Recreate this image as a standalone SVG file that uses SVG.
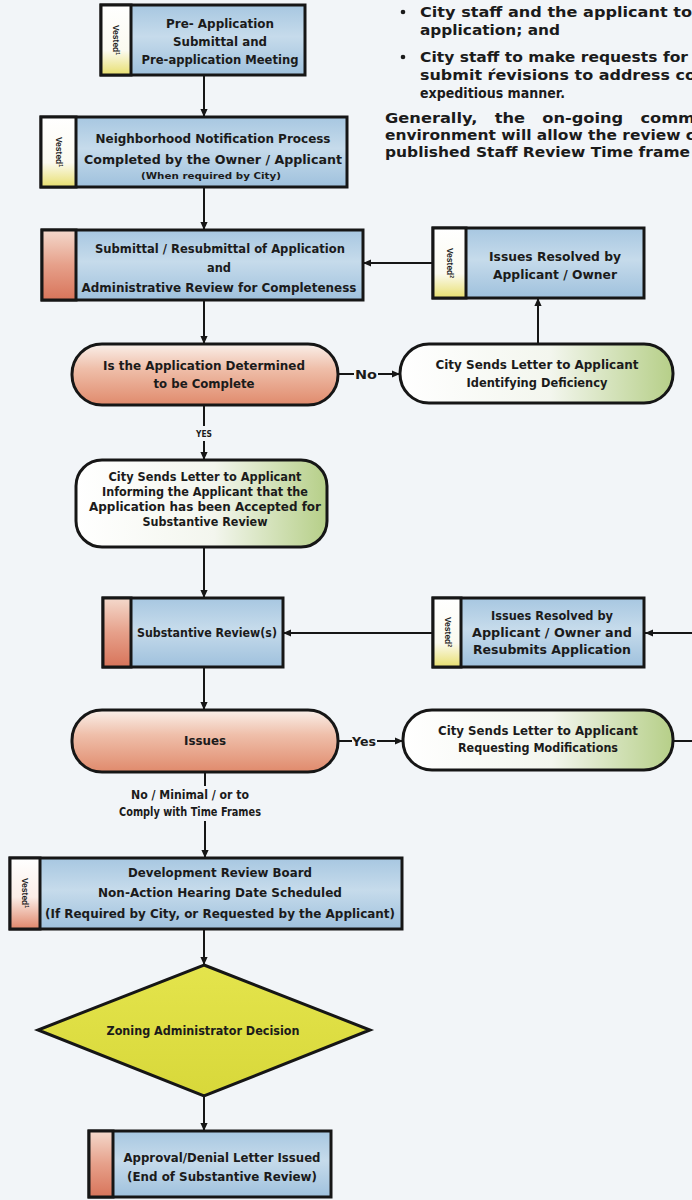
<svg xmlns="http://www.w3.org/2000/svg" width="692" height="1200" viewBox="0 0 692 1200">
<defs>
<style>
.t{font-family:"DejaVu Sans","Liberation Sans",sans-serif;font-weight:bold;font-size:12.5px;fill:#1b1b1b;text-anchor:middle}
.s{font-size:8.5px}
.p{font-family:"DejaVu Sans","Liberation Sans",sans-serif;font-weight:bold;font-size:14px;fill:#1b1b1b}
.v{font-family:"Liberation Sans",sans-serif;font-weight:bold;font-size:8.5px;fill:#222;text-anchor:middle}
.bx{stroke:#161616;stroke-width:3;fill:url(#blue)}
.st{stroke:#161616;stroke-width:3}
.ln{stroke:#161616;stroke-width:2;fill:none}
.ar{marker-end:url(#ah)}
</style>
<linearGradient id="blue" x1="0" y1="0" x2="0" y2="1">
<stop offset="0" stop-color="#a7c7e1"/><stop offset="0.45" stop-color="#c6dbeb"/><stop offset="1" stop-color="#9fc1dd"/>
</linearGradient>
<linearGradient id="red" x1="0" y1="0" x2="0" y2="1">
<stop offset="0" stop-color="#f4d9cc"/><stop offset="0.5" stop-color="#e6a08a"/><stop offset="1" stop-color="#d8745a"/>
</linearGradient>
<linearGradient id="vy" x1="0" y1="0" x2="0" y2="1">
<stop offset="0" stop-color="#ffffff"/><stop offset="0.65" stop-color="#fbfaf0"/><stop offset="1" stop-color="#e8df6e"/>
</linearGradient>
<linearGradient id="vr" x1="0" y1="0" x2="0" y2="1">
<stop offset="0" stop-color="#ffffff"/><stop offset="0.55" stop-color="#fbeee8"/><stop offset="1" stop-color="#e0866a"/>
</linearGradient>
<linearGradient id="ro" x1="0" y1="0" x2="0" y2="1">
<stop offset="0" stop-color="#faf0ea"/><stop offset="0.4" stop-color="#efbfaa"/><stop offset="1" stop-color="#e08a6c"/>
</linearGradient>
<linearGradient id="go" x1="0" y1="0" x2="1" y2="0">
<stop offset="0" stop-color="#ffffff"/><stop offset="0.55" stop-color="#f3f6ee"/><stop offset="1" stop-color="#b6cf88"/>
</linearGradient>
<linearGradient id="yl" x1="0" y1="0" x2="0" y2="1">
<stop offset="0" stop-color="#e4e44c"/><stop offset="1" stop-color="#d8d83a"/>
</linearGradient>
<marker id="ah" viewBox="0 0 10 10" refX="10" refY="5" markerWidth="8" markerHeight="8" markerUnits="userSpaceOnUse" orient="auto">
<path d="M0,0.5 L10,5 L0,9.5 z" fill="#161616"/>
</marker>
</defs>
<rect x="0" y="0" width="692" height="1200" fill="#f2f5f8"/>

<g id="notes">
<circle cx="403" cy="12" r="2.3" fill="#1b1b1b"/>
<text class="p" x="420" y="17" textLength="272" lengthAdjust="spacingAndGlyphs">City staff and the applicant to</text>
<text class="p" x="420" y="35" textLength="140" lengthAdjust="spacingAndGlyphs">application; and</text>
<circle cx="403" cy="57" r="2.3" fill="#1b1b1b"/>
<text class="p" x="420" y="62" textLength="268" lengthAdjust="spacingAndGlyphs">City staff to make requests for</text>
<text class="p" x="420" y="80" textLength="276" lengthAdjust="spacingAndGlyphs">submit ŕevisions to address co</text>
<text class="p" x="420" y="98" textLength="145" lengthAdjust="spacingAndGlyphs">expeditious manner.</text>
<text class="p" x="385" y="123" textLength="310" lengthAdjust="spacingAndGlyphs" word-spacing="10">Generally, the on-going comm</text>
<text class="p" x="385" y="140" textLength="310" lengthAdjust="spacingAndGlyphs">environment will allow the review c</text>
<text class="p" x="385" y="157" textLength="305" lengthAdjust="spacingAndGlyphs">published Staff Review Time frame</text>
</g>

<g id="connectors">
<path class="ln ar" d="M204,75 V117"/>
<path class="ln ar" d="M204,187 V230"/>
<path class="ln ar" d="M204,300 V344"/>
<path class="ln ar" d="M433,263 H363"/>
<path class="ln ar" d="M538,344 V298"/>
<path class="ln" d="M338,374 H354"/>
<text class="t" x="366" y="379" textLength="22" lengthAdjust="spacingAndGlyphs">No</text>
<path class="ln ar" d="M378,374 H400"/>
<path class="ln" d="M204,405 V426"/>
<text class="t s" x="204" y="437" textLength="16" lengthAdjust="spacingAndGlyphs">YES</text>
<path class="ln ar" d="M204,441 V460"/>
<path class="ln ar" d="M204,547 V598"/>
<path class="ln ar" d="M433,633 H283"/>
<path class="ln ar" d="M700,633 H645"/>
<path class="ln ar" d="M204,667 V710"/>
<path class="ln" d="M338,741 H352"/>
<text class="t" x="364" y="746" textLength="24" lengthAdjust="spacingAndGlyphs">Yes</text>
<path class="ln ar" d="M377,741 H403"/>
<path class="ln" d="M673,741 H700"/>
<path class="ln" d="M205,772 V786"/>
<text class="t" x="190" y="799" textLength="118" lengthAdjust="spacingAndGlyphs">No / Minimal / or to</text>
<text class="t" x="190" y="816" textLength="142" lengthAdjust="spacingAndGlyphs">Comply with Time Frames</text>
<path class="ln ar" d="M205,821 V858"/>
<path class="ln ar" d="M204,930 V965"/>
<path class="ln ar" d="M204,1096 V1131"/>
</g>

<g id="pre-application">
<rect class="bx" x="101" y="5" width="204" height="70"/>
<rect class="st" x="101" y="5" width="30" height="70" fill="url(#vy)"/>
<text class="v" transform="translate(113,40) rotate(90)">Vested<tspan font-size="5" dy="-3">1</tspan></text>
<text class="t" x="220" y="28" textLength="108" lengthAdjust="spacingAndGlyphs">Pre- Application</text>
<text class="t" x="220" y="46" textLength="94" lengthAdjust="spacingAndGlyphs">Submittal and</text>
<text class="t" x="220" y="64" textLength="157" lengthAdjust="spacingAndGlyphs">Pre-application Meeting</text>
</g>

<g id="neighborhood">
<rect class="bx" x="41" y="117" width="306" height="70"/>
<rect class="st" x="41" y="117" width="35" height="70" fill="url(#vy)"/>
<text class="v" transform="translate(56,152) rotate(90)">Vested<tspan font-size="5" dy="-3">1</tspan></text>
<text class="t" x="213" y="143" textLength="235" lengthAdjust="spacingAndGlyphs">Neighborhood Notification Process</text>
<text class="t" x="213" y="164" textLength="258" lengthAdjust="spacingAndGlyphs">Completed by the Owner / Applicant</text>
<text class="t s" x="211" y="179" textLength="140" lengthAdjust="spacingAndGlyphs">(When required by City)</text>
</g>

<g id="submittal">
<rect class="bx" x="42" y="230" width="321" height="70"/>
<rect class="st" x="42" y="230" width="34" height="70" fill="url(#red)"/>
<text class="t" x="220" y="253" textLength="250" lengthAdjust="spacingAndGlyphs">Submittal / Resubmittal of Application</text>
<text class="t" x="219" y="272" textLength="24" lengthAdjust="spacingAndGlyphs">and</text>
<text class="t" x="219" y="292" textLength="275" lengthAdjust="spacingAndGlyphs">Administrative Review for Completeness</text>
</g>

<g id="issues-resolved-1">
<rect class="bx" x="433" y="228" width="211" height="70"/>
<rect class="st" x="433" y="228" width="33" height="70" fill="url(#vy)"/>
<text class="v" transform="translate(447,263) rotate(90)">Vested<tspan font-size="5" dy="-3">2</tspan></text>
<text class="t" x="555" y="261" textLength="132" lengthAdjust="spacingAndGlyphs">Issues Resolved by</text>
<text class="t" x="555" y="279" textLength="124" lengthAdjust="spacingAndGlyphs">Applicant / Owner</text>
</g>

<g id="complete-decision">
<rect class="st" x="72" y="344" width="266" height="61" rx="30" fill="url(#ro)"/>
<text class="t" x="204" y="370" textLength="202" lengthAdjust="spacingAndGlyphs">Is the Application Determined</text>
<text class="t" x="204" y="388" textLength="101" lengthAdjust="spacingAndGlyphs">to be Complete</text>
</g>

<g id="deficiency-letter">
<rect class="st" x="400" y="344" width="273" height="59" rx="29" fill="url(#go)"/>
<text class="t" x="537" y="369" textLength="203" lengthAdjust="spacingAndGlyphs">City Sends Letter to Applicant</text>
<text class="t" x="537" y="387" textLength="141" lengthAdjust="spacingAndGlyphs">Identifying Deficiency</text>
</g>

<g id="accepted-letter">
<rect class="st" x="76" y="460" width="251" height="87" rx="26" fill="url(#go)"/>
<text class="t" x="205" y="481" textLength="193" lengthAdjust="spacingAndGlyphs">City Sends Letter to Applicant</text>
<text class="t" x="205" y="496" textLength="206" lengthAdjust="spacingAndGlyphs">Informing the Applicant that the</text>
<text class="t" x="205" y="511" textLength="232" lengthAdjust="spacingAndGlyphs">Application has been Accepted for</text>
<text class="t" x="205" y="526" textLength="125" lengthAdjust="spacingAndGlyphs">Substantive Review</text>
</g>

<g id="substantive-review">
<rect class="bx" x="103" y="598" width="180" height="69"/>
<rect class="st" x="103" y="598" width="28" height="69" fill="url(#red)"/>
<text class="t" x="207" y="637" textLength="140" lengthAdjust="spacingAndGlyphs">Substantive Review(s)</text>
</g>

<g id="issues-resolved-2">
<rect class="bx" x="433" y="598" width="211" height="69"/>
<rect class="st" x="433" y="598" width="28" height="69" fill="url(#vy)"/>
<text class="v" transform="translate(445,632) rotate(90)">Vested<tspan font-size="5" dy="-3">2</tspan></text>
<text class="t" x="552" y="620" textLength="122" lengthAdjust="spacingAndGlyphs">Issues Resolved by</text>
<text class="t" x="552" y="637" textLength="160" lengthAdjust="spacingAndGlyphs">Applicant / Owner and</text>
<text class="t" x="552" y="654" textLength="158" lengthAdjust="spacingAndGlyphs">Resubmits Application</text>
</g>

<g id="issues-decision">
<rect class="st" x="72" y="710" width="266" height="62" rx="30" fill="url(#ro)"/>
<text class="t" x="205" y="745" textLength="42" lengthAdjust="spacingAndGlyphs">Issues</text>
</g>

<g id="modifications-letter">
<rect class="st" x="403" y="710" width="270" height="60" rx="29" fill="url(#go)"/>
<text class="t" x="538" y="735" textLength="200" lengthAdjust="spacingAndGlyphs">City Sends Letter to Applicant</text>
<text class="t" x="538" y="752" textLength="160" lengthAdjust="spacingAndGlyphs">Requesting Modifications</text>
</g>

<g id="drb-hearing">
<rect class="bx" x="10" y="858" width="392" height="71"/>
<rect class="st" x="10" y="858" width="30" height="71" fill="url(#vr)"/>
<text class="v" transform="translate(22,893) rotate(90)">Vested<tspan font-size="5" dy="-3">1</tspan></text>
<text class="t" x="220" y="877" textLength="184" lengthAdjust="spacingAndGlyphs">Development Review Board</text>
<text class="t" x="220" y="897" textLength="244" lengthAdjust="spacingAndGlyphs">Non-Action Hearing Date Scheduled</text>
<text class="t" x="220" y="918" textLength="350" lengthAdjust="spacingAndGlyphs">(If Required by City, or Requested by the Applicant)</text>
</g>

<g id="zoning-decision">
<path class="st" d="M204,965 L370,1030 L204,1096 L38,1030 Z" fill="url(#yl)"/>
<text class="t" x="203" y="1035" textLength="193" lengthAdjust="spacingAndGlyphs">Zoning Administrator Decision</text>
</g>

<g id="approval-letter">
<rect class="bx" x="89" y="1131" width="242" height="66"/>
<rect class="st" x="89" y="1131" width="24" height="66" fill="url(#red)"/>
<text class="t" x="222" y="1162" textLength="197" lengthAdjust="spacingAndGlyphs">Approval/Denial Letter Issued</text>
<text class="t" x="222" y="1181" textLength="190" lengthAdjust="spacingAndGlyphs">(End of Substantive Review)</text>
</g>
</svg>
